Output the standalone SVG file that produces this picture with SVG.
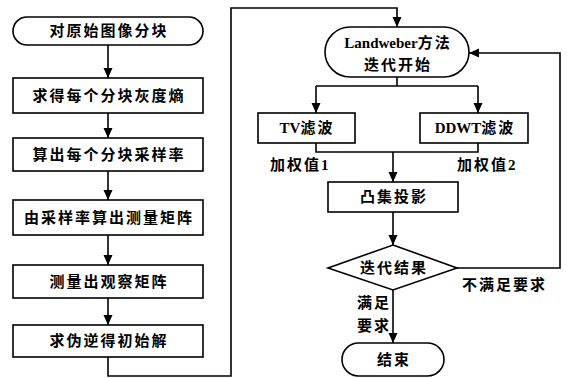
<svg xmlns="http://www.w3.org/2000/svg" width="567" height="378" viewBox="0 0 567 378">
<style>
.s{fill:#fff;stroke:#000;stroke-width:1.6}
.c{fill:none;stroke:#000;stroke-width:1.6}
text{font-family:"Liberation Serif","Noto Sans CJK SC",serif;font-weight:bold;font-size:15px;fill:#000;dominant-baseline:central}
.m{text-anchor:middle}
.z{letter-spacing:2px}
</style>
<defs>
<marker id="a" viewBox="0 0 10 10" refX="10" refY="5" markerWidth="10" markerHeight="10" markerUnits="userSpaceOnUse" orient="auto">
<path d="M0,0.5 L10,5 L0,9.5 Z" fill="#000"/>
</marker>
</defs>
<g id="connectors">
<line class="c" x1="108" y1="45" x2="108" y2="78" marker-end="url(#a)"/>
<line class="c" x1="108" y1="113" x2="108" y2="138" marker-end="url(#a)"/>
<line class="c" x1="108" y1="171" x2="108" y2="200" marker-end="url(#a)"/>
<line class="c" x1="108" y1="235" x2="108" y2="265" marker-end="url(#a)"/>
<line class="c" x1="108" y1="298" x2="108" y2="325" marker-end="url(#a)"/>
<polyline class="c" points="108,357 108,376 231,376 231,8 397,8 397,27" marker-end="url(#a)"/>
<polyline class="c" points="397,77 397,86"/>
<polyline class="c" points="316,86 316,113" marker-end="url(#a)"/>
<polyline class="c" points="478,86 478,113" marker-end="url(#a)"/>
<line class="c" x1="316" y1="86" x2="478" y2="86"/>
<polyline class="c" points="316,143 316,152 478,152 478,143"/>
<line class="c" x1="393" y1="152" x2="393" y2="182" marker-end="url(#a)"/>
<line class="c" x1="393" y1="212" x2="393" y2="245" marker-end="url(#a)"/>
<line class="c" x1="393" y1="290" x2="393" y2="343" marker-end="url(#a)"/>
<polyline class="c" points="457,268 560,268 560,53 469,53" marker-end="url(#a)"/>
<text x="270" y="165" class="z">加权值1</text>
<text x="457" y="165" class="z">加权值2</text>
<text x="462" y="285" class="z">不满足要求</text>
<text x="357" y="303" class="z">满足</text>
<text x="357" y="326" class="z">要求</text>
</g>
<g id="n1"><rect class="s" x="13" y="17" width="190" height="28" rx="14"/><text class="m z" x="109" y="31">对原始图像分块</text></g>
<g id="n2"><rect class="s" x="13" y="78" width="190" height="35"/><text class="m z" x="109" y="95.5">求得每个分块灰度熵</text></g>
<g id="n3"><rect class="s" x="13" y="138" width="190" height="33"/><text class="m z" x="109" y="154.5">算出每个分块采样率</text></g>
<g id="n4"><rect class="s" x="13" y="200" width="190" height="35"/><text class="m z" x="109" y="217.5">由采样率算出测量矩阵</text></g>
<g id="n5"><rect class="s" x="13" y="265" width="190" height="33"/><text class="m z" x="109" y="281.5">测量出观察矩阵</text></g>
<g id="n6"><rect class="s" x="13" y="325" width="190" height="32"/><text class="m z" x="109" y="341">求伪逆得初始解</text></g>
<g id="n7"><rect class="s" x="325" y="27" width="144" height="50" rx="25"/><text class="m" x="398" y="43">Landweber<tspan class="z">方法</tspan></text><text class="m z" x="398" y="65">迭代开始</text></g>
<g id="n8"><rect class="s" x="258" y="113" width="97" height="30"/><text class="m" x="307" y="128">TV<tspan class="z">滤波</tspan></text></g>
<g id="n9"><rect class="s" x="420" y="113" width="108" height="30"/><text class="m" x="475" y="128">DDWT<tspan class="z">滤波</tspan></text></g>
<g id="n10"><rect class="s" x="328" y="182" width="130" height="30"/><text class="m z" x="394" y="197">凸集投影</text></g>
<g id="n11"><polygon class="s" points="393,245 457,268 393,290 328,268"/><text class="m z" x="394" y="268">迭代结果</text></g>
<g id="n12"><rect class="s" x="342" y="343" width="102" height="33" rx="16.5"/><text class="m z" x="394" y="360">结束</text></g>
</svg>
